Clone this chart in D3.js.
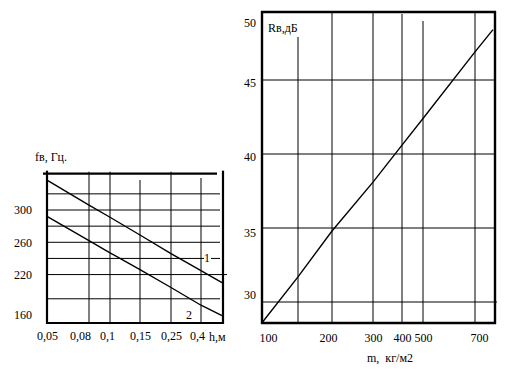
<!DOCTYPE html>
<html>
<head>
<meta charset="utf-8">
<script src="https://cdn.jsdelivr.net/npm/d3@7"></script>
<style>
  body { margin: 0; background: #fff; }
  text { font-family: "Liberation Serif", "DejaVu Serif", serif; font-size: 12px; fill: #000; white-space: pre; }
</style>
</head>
<body>
<script>
// Datos
// Gráfico izquierdo: fв (Гц) contra h (м), dos curvas
const hValores = [0.05, 0.08, 0.1, 0.15, 0.25, 0.4, 0.5];
const curva1 = [337, 306, 291, 269, 246, 225, 210];
const curva2 = [292, 262, 247, 226, 204, 182, 169];
const hEtiquetas = ["0,05", "0,08", "0,1", "0,15", "0,25", "0,4"];
const fTicks = [300, 260, 220, 160];
const fGrid = [190, 220, 240, 260, 280, 300, 320];

// Gráfico derecho: Rв (дБ) contra m (кг/м2)
const mValores = [100, 150, 200, 300, 400, 500, 700, 772];
const rValores = [28.6, 31.7, 34.8, 38.1, 40.6, 42.4, 46.9, 48.4];
const mTicks = [100, 200, 300, 400, 500, 700];
const mGrid = [150, 200, 300, 400, 500, 700];
const rTicks = [50, 45, 40, 35, 30];
const rGrid = [45, 40, 35, 30];

const WIDTH = 512;
const HEIGHT = 384;

const svg = d3.select("body")
  .append("svg")
  .attr("width", WIDTH)
  .attr("height", HEIGHT);

// ---------- Gráfico izquierdo ----------
// Escala x dibujada a mano: lineal por tramos
const escalaH = d3.scaleLinear()
  .domain([0.05, 0.08, 0.1, 0.15, 0.25, 0.4, 0.5])
  .range([47, 89, 110, 140, 171, 201, 222]);
const escalaF = d3.scaleLinear()
  .domain([160, 300])
  .range([323, 210]);
const fTop = escalaF(345);
const izq = svg.append("g");

// líneas de la cuadrícula
izq.selectAll(".hgrid")
  .data(fGrid)
  .join("line")
  .attr("x1", 47)
  .attr("x2", (d) => (d === 220 ? 227 : 220))
  .attr("y1", (d) => escalaF(d))
  .attr("y2", (d) => escalaF(d))
  .attr("stroke", "#000")
  .attr("stroke-width", 1);

izq.selectAll(".vgrid")
  .data(hValores.slice(1, 6))
  .join("line")
  .attr("x1", (d) => escalaH(d))
  .attr("x2", (d) => escalaH(d))
  .attr("y1", (d) => (d === 0.15 ? 180 : d === 0.4 ? 178 : fTop - 2))
  .attr("y2", 324)
  .attr("stroke", "#000")
  .attr("stroke-width", 1);

// marco
const marcoL = [
  [43, fTop, 217, fTop],
  [47, fTop - 3, 47, 324],
  [46, 323, 224, 323],
  [223, fTop - 3, 223, 324],
];
izq.selectAll(".marco")
  .data(marcoL)
  .join("line")
  .attr("x1", (d) => d[0]).attr("y1", (d) => d[1])
  .attr("x2", (d) => d[2]).attr("y2", (d) => d[3])
  .attr("stroke", "#000")
  .attr("stroke-width", 2.2);

// hueco para la etiqueta "1"
izq.append("rect")
  .attr("x", 204).attr("y", escalaF(240) - 2)
  .attr("width", 7).attr("height", 4)
  .attr("fill", "#fff");

// curvas
const lineaL = (vals) => d3.line()
  .x((d, i) => escalaH(hValores[i]))
  .y((d) => escalaF(d))(vals);

[curva1, curva2].forEach((c) => {
  izq.append("path")
    .attr("d", lineaL(c))
    .attr("fill", "none")
    .attr("stroke", "#000")
    .attr("stroke-width", 1.4);
});

izq.append("text").attr("x", 204).attr("y", escalaF(240) + 4).text("1");
izq.append("text").attr("x", 186).attr("y", 319).text("2");

// ejes
const ejeF = d3.axisLeft(escalaF).tickValues(fTicks).tickSize(0).tickPadding(0);
izq.append("g")
  .attr("transform", "translate(32,0)")
  .call(ejeF)
  .call((g) => g.select(".domain").remove())
  .selectAll("text")
  .attr("font-size", null)
  .attr("font-family", null)
  .attr("dy", (d) => (d === 160 ? "-0.4em" : "0.32em"));

const ejeH = d3.axisBottom(escalaH)
  .tickValues(hValores.slice(0, 6))
  .tickFormat((d, i) => hEtiquetas[i])
  .tickSize(0)
  .tickPadding(8);
izq.append("g")
  .attr("transform", "translate(0,323)")
  .call(ejeH)
  .call((g) => g.select(".domain").remove())
  .selectAll("text")
  .attr("font-size", null)
  .attr("font-family", null)
  .attr("dx", (d) => (d === 0.08 ? -9 : d === 0.1 ? -3 : d === 0.4 ? -4 : 0));

izq.append("text").attr("x", 209).attr("y", 341).text("h,м");
izq.append("text").attr("x", 35).attr("y", 161).text("fв, Гц.");

// ---------- Gráfico derecho ----------
const escalaM = d3.scaleLinear()
  .domain([100, 150, 200, 300, 400, 500, 700, 780])
  .range([262, 298, 332, 373, 402, 423, 475, 495]);
const escalaR = d3.scaleLinear()
  .domain([30, 45])
  .range([302, 80]);
const der = svg.append("g");

der.selectAll(".hgrid")
  .data(rGrid)
  .join("line")
  .attr("x1", 262)
  .attr("x2", (d) => (d === 30 ? 497 : 495))
  .attr("y1", (d) => escalaR(d))
  .attr("y2", (d) => escalaR(d))
  .attr("stroke", "#000")
  .attr("stroke-width", 1);

der.selectAll(".vgrid")
  .data(mGrid)
  .join("line")
  .attr("x1", (d) => escalaM(d))
  .attr("x2", (d) => escalaM(d))
  .attr("y1", (d) => (d === 150 ? 37 : d === 400 ? 14 : d === 500 ? 21 : 12))
  .attr("y2", 323)
  .attr("stroke", "#000")
  .attr("stroke-width", 1);

const marcoR = [
  [261, 12, 496, 12],
  [262, 11, 262, 324],
  [261, 323, 496, 323],
  [495, 11, 495, 324],
];
der.selectAll(".marco")
  .data(marcoR)
  .join("line")
  .attr("x1", (d) => d[0]).attr("y1", (d) => d[1])
  .attr("x2", (d) => d[2]).attr("y2", (d) => d[3])
  .attr("stroke", "#000")
  .attr("stroke-width", 2.4);

der.append("path")
  .datum(mValores)
  .attr("d", d3.line()
    .x((d) => escalaM(d))
    .y((d, i) => escalaR(rValores[i])))
  .attr("fill", "none")
  .attr("stroke", "#000")
  .attr("stroke-width", 1.4);

const ejeR = d3.axisLeft(escalaR).tickValues(rTicks).tickSize(0).tickPadding(0);
der.append("g")
  .attr("transform", "translate(256,0)")
  .call(ejeR)
  .call((g) => g.select(".domain").remove())
  .selectAll("text")
  .attr("font-size", null)
  .attr("font-family", null)
  .attr("dy", (d) => (d === 50 ? "1.7em" : d === 30 ? "-0.3em" : d === 35 ? "0.7em" : "0.55em"));

const ejeM = d3.axisBottom(escalaM).tickValues(mTicks).tickSize(0).tickPadding(10);
der.append("g")
  .attr("transform", "translate(0,323)")
  .call(ejeM)
  .call((g) => g.select(".domain").remove())
  .selectAll("text")
  .attr("font-size", null)
  .attr("font-family", null)
  .attr("dx", (d) => (d === 100 ? 6 : d === 200 ? -4 : d === 700 ? 4 : 0));

der.append("text").attr("x", 390).attr("y", 362).attr("text-anchor", "middle").text("m,  кг/м2");
der.append("text").attr("x", 268).attr("y", 32).text("Rв,дБ");
</script>
</body>
</html>
